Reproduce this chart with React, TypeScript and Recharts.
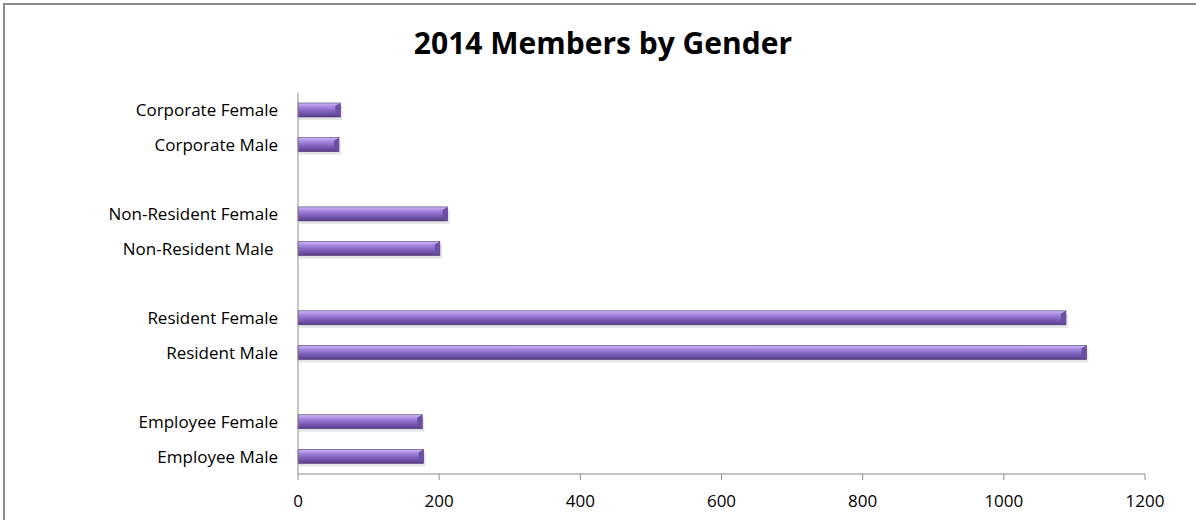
import React from 'react';
import { BarChart, Bar, XAxis, YAxis } from 'recharts';

// top to bottom, '' = spacer row between groups
const categories = [
  'Corporate Female',
  'Corporate Male',
  '',
  'Non-Resident Female',
  'Non-Resident Male\u00a0',
  '',
  'Resident Female',
  'Resident Male',
  '',
  'Employee Female',
  'Employee Male',
];
const members = [60, 58, null, 212, 201, null, 1088, 1117, null, 176, 178];
const xTicks = [0, 200, 400, 600, 800, 1000, 1200];

const data = categories.map((label, i) => ({ id: i, label, members: members[i] }));

const FONT = '"Open Sans", Lato, sans-serif';

const CylinderBar = (props: any) => {
  const { x, y, width, height } = props;
  if (!width || width <= 0) return null;
  const bev = Math.min(5, width / 2);
  return (
    <g>
      <rect x={x + 1} y={y + 3} width={width + 1} height={height} fill="#000" opacity={0.1} />
      <rect x={x} y={y} width={width} height={height} fill="url(#barGrad)" stroke="#4b3576" strokeWidth={0.6} />
      <polygon
        points={`${x + width - bev},${y + 3} ${x + width},${y} ${x + width},${y + height} ${x + width - bev},${y + height - 3}`}
        fill="#6b4fa3"
      />
    </g>
  );
};

export default function App() {
  return (
    <div style={{ width: 1196, height: 520, position: 'relative', background: '#fff', overflow: 'hidden' }}>
      <style>{`body{margin:0}`}</style>
      <div
        style={{
          position: 'absolute',
          left: 3,
          top: 3,
          width: 1200,
          height: 530,
          borderTop: '2px solid #8c8c8c',
          borderLeft: '2px solid #8c8c8c',
          boxSizing: 'border-box',
        }}
      />
      <div
        style={{
          position: 'absolute',
          top: 25,
          left: 0,
          width: 1206,
          textAlign: 'center',
          fontFamily: FONT,
          fontWeight: 700,
          fontSize: 30,
          lineHeight: '36px',
          color: '#000',
        }}
      >
        2014 Members by Gender
      </div>
      <BarChart
        width={1196}
        height={520}
        data={data}
        layout="vertical"
        margin={{ top: 93, right: 51, bottom: 16, left: 8 }}
        barCategoryGap={0}
        style={{ position: 'absolute', top: 0, left: 0 }}
      >
        <defs>
          <linearGradient id="barGrad" x1="0" y1="0" x2="0" y2="1">
            <stop offset="0" stopColor="#cdbaf5" />
            <stop offset="0.25" stopColor="#a88ce2" />
            <stop offset="0.55" stopColor="#8466c2" />
            <stop offset="1" stopColor="#563d88" />
          </linearGradient>
        </defs>
        <XAxis
          type="number"
          domain={[0, 1200]}
          ticks={xTicks}
          height={30}
          stroke="#8c8c8c"
          tickSize={6}
          tickMargin={15}
          tick={{ fill: '#000', fontSize: 17, fontFamily: FONT }}
        />
        <YAxis
          type="category"
          dataKey="id"
          width={290}
          stroke="#8c8c8c"
          tickLine={false}
          tickMargin={14}
          interval={0}
          tickFormatter={(i: number) => categories[i]}
          tick={{ fill: '#000', fontSize: 17, fontFamily: FONT }}
        />
        <Bar dataKey="members" barSize={14} shape={CylinderBar} isAnimationActive={false} />
      </BarChart>
    </div>
  );
}
